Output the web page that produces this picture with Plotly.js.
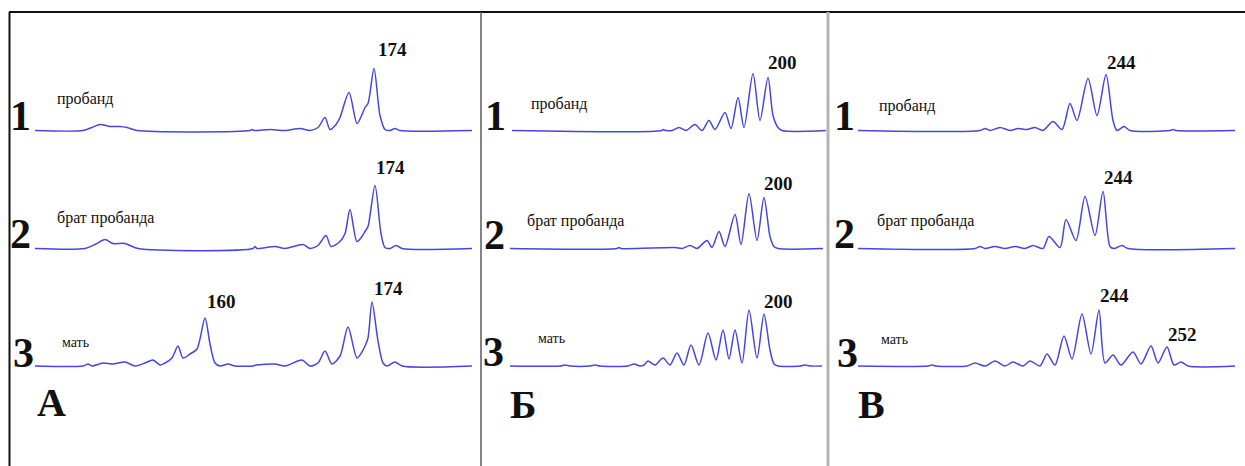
<!DOCTYPE html>
<html>
<head>
<meta charset="utf-8">
<script src="https://cdn.plot.ly/plotly-3.0.1.min.js"></script>
<style>html,body{margin:0;padding:0;background:#fff;}#chart{width:1245px;height:466px;}</style>
</head>
<body>
<div id="chart"></div>
<script>
// ---------- DATA (migration position, signal height) ----------
const panelLetters = ['А', 'Б', 'В'];
const rowNumbers = ['1', '2', '3'];
const sampleNames = ['пробанд', 'брат пробанда', 'мать'];

// Panel А
const A1x = [35, 83, 92, 100, 110, 120, 127, 137, 250, 252, 254, 270, 285, 300, 310, 318, 325, 330, 336, 340, 349, 357, 362, 365, 368, 374, 380, 385, 390, 395, 400, 472];
const A1y = [0, 0, 3, 6, 4, 4, 3, 0, 0, 1, 0, 1, 0, 2, 0, 3, 13, 1, 6, 13, 38, 7, 16, 23, 27, 62, 15, 1, 0, 2, 0, 0];
const A2x = [35, 85, 95, 105, 113, 125, 138, 253, 255, 257, 275, 285, 303, 310, 318, 326, 331, 340, 345, 350, 357, 362, 365, 368, 375, 381, 385, 390, 396, 402, 472];
const A2y = [0, 0, 4, 9, 5, 5, 0, 0, 2, 0, 2, 0, 4, 0, 3, 13, 2, 7, 15, 39, 7, 12, 17, 22, 63, 15, 1, 0, 3, 0, 0];
const A3x = [35, 83, 88, 92, 103, 113, 125, 135, 145, 153, 160, 165, 172, 178, 183, 190, 197, 205, 210, 215, 220, 228, 235, 253, 256, 275, 285, 302, 310, 318, 325, 332, 340, 348, 357, 362, 365, 368, 372, 378, 383, 387, 395, 402, 472];
const A3y = [0, 0, 2, 0, 3, 2, 4, 0, 3, 6, 1, 3, 8, 20, 8, 12, 17, 48, 22, 3, 0, 2, 0, 0, 1, 2, 0, 6, 0, 3, 15, 2, 10, 39, 8, 14, 20, 28, 64, 25, 3, 0, 4, 0, 0];

// Panel Б
const B1x = [512, 662, 663, 666, 672, 679, 686, 695, 702, 709, 715, 725, 731, 738, 744, 753, 760, 768, 773, 778, 782, 826];
const B1y = [0, 0, 1, 0, 0, 3, 0, 6, 0, 10, 1, 18, 2, 33, 3, 57, 10, 53, 15, 3, 0, 0];
const B2x = [510, 617, 619, 621, 675, 682, 690, 697, 707, 712, 719, 725, 735, 741, 749, 757, 764, 770, 774, 778, 823];
const B2y = [0, 0, 1, 0, 1, 0, 3, 0, 8, 1, 17, 2, 34, 4, 55, 8, 51, 12, 2, 0, 0];
const B3x = [510, 560, 565, 570, 590, 595, 600, 628, 634, 640, 644, 648, 655, 663, 670, 677, 684, 691, 699, 708, 716, 723, 729, 735, 742, 749, 757, 764, 770, 774, 778, 800, 805, 810, 822];
const B3y = [0, 0, 1, 0, 0, 1, 0, 0, 2, 0, 1, 5, 1, 8, 1, 13, 1, 21, 1, 33, 6, 36, 7, 36, 3, 56, 8, 52, 16, 2, 0, 0, 1, 0, 0];

// Panel В
const C1x = [858, 980, 985, 990, 1000, 1010, 1018, 1027, 1035, 1043, 1053, 1062, 1070, 1077, 1088, 1097, 1106, 1113, 1117, 1124, 1130, 1170, 1173, 1176, 1235];
const C1y = [0, 0, 2, 0, 3, 0, 2, 1, 3, 0, 9, 1, 27, 10, 52, 15, 56, 10, 0, 4, 0, 0, 1, 0, 0];
const C2x = [858, 975, 980, 985, 995, 1005, 1015, 1025, 1033, 1043, 1049, 1060, 1066, 1076, 1085, 1095, 1103, 1110, 1114, 1122, 1128, 1235];
const C2y = [0, 0, 2, 0, 2, 0, 2, 0, 3, 0, 12, 1, 29, 8, 52, 13, 57, 2, 0, 3, 0, 0];
const C3x = [858, 928, 932, 936, 967, 975, 985, 995, 1005, 1013, 1023, 1030, 1040, 1047, 1055, 1064, 1072, 1082, 1091, 1099, 1105, 1113, 1121, 1133, 1141, 1151, 1158, 1167, 1174, 1181, 1188, 1235];
const C3y = [0, 0, 1, 0, 0, 3, 0, 5, 0, 4, 0, 5, 0, 12, 1, 30, 7, 52, 12, 56, 3, 11, 1, 14, 2, 20, 3, 19, 1, 4, 0, 0];

// Peak size labels (allele sizes)
const peakLabelsA = [['174'], ['174'], ['160', '174']];
const peakLabelsB = [['200'], ['200'], ['200']];
const peakLabelsC = [['244'], ['244'], ['244', '252']];

// ---------- LAYOUT HELPERS ----------
const W = 1245, H = 466;
const X = px => px / W;
const Y = py => 1 - py / H;
const SERIF = 'Liberation Serif, Times New Roman, serif';
const LINE = '#4646e2';

const panels = [
  {xs: [A1x, A2x, A3x], ys: [A1y, A2y, A3y], range: [35, 472], labels: peakLabelsA},
  {xs: [B1x, B2x, B3x], ys: [B1y, B2y, B3y], range: [510, 826], labels: peakLabelsB},
  {xs: [C1x, C2x, C3x], ys: [C1y, C2y, C3y], range: [858, 1235], labels: peakLabelsC}
];
const baselines = [130.5, 248.5, 366];

const traces = [];
panels.forEach((p, pi) => {
  for (let r = 0; r < 3; r++) {
    traces.push({
      x: p.xs[r], y: p.ys[r], type: 'scatter', mode: 'lines',
      xaxis: pi === 0 ? 'x' : 'x' + (pi + 1),
      yaxis: r === 0 ? 'y' : 'y' + (r + 1),
      line: {color: LINE, width: 1.5, shape: 'spline', smoothing: 0.8},
      hoverinfo: 'skip', showlegend: false
    });
  }
});

const layout = {
  width: W, height: H,
  margin: {l: 0, r: 0, t: 0, b: 0, pad: 0},
  paper_bgcolor: '#ffffff', plot_bgcolor: 'rgba(0,0,0,0)',
  showlegend: false,
  annotations: [], shapes: []
};
const hiddenAx = {showgrid: false, zeroline: false, showticklabels: false, ticks: '', showline: false, fixedrange: true};
panels.forEach((p, pi) => {
  const key = pi === 0 ? 'xaxis' : 'xaxis' + (pi + 1);
  layout[key] = Object.assign({}, hiddenAx, {range: p.range, domain: [X(p.range[0]), X(p.range[1])], anchor: 'y'});
});
baselines.forEach((b, r) => {
  const key = r === 0 ? 'yaxis' : 'yaxis' + (r + 1);
  layout[key] = Object.assign({}, hiddenAx, {range: [-5, 95], domain: [Y(b + 5), Y(b - 95)], anchor: 'x'});
});

// frame lines
layout.shapes.push({type: 'line', xref: 'paper', yref: 'paper', x0: X(9), x1: 1, y0: Y(12), y1: Y(12), line: {color: '#111', width: 2}});
layout.shapes.push({type: 'line', xref: 'paper', yref: 'paper', x0: X(9.5), x1: X(9.5), y0: Y(12), y1: 0, line: {color: '#111', width: 2}});
layout.shapes.push({type: 'line', xref: 'paper', yref: 'paper', x0: X(481), x1: X(481), y0: Y(12), y1: 0, line: {color: '#5a5a5a', width: 1.5}});
layout.shapes.push({type: 'line', xref: 'paper', yref: 'paper', x0: X(828), x1: X(828), y0: Y(12), y1: 0, line: {color: '#b4b4b4', width: 3}});

function ann(text, px, py, size, bold, xanchor) {
  layout.annotations.push({
    text: bold ? '<b>' + text + '</b>' : text,
    xref: 'paper', yref: 'paper', x: X(px), y: Y(py),
    xanchor: xanchor || 'center', yanchor: 'middle', showarrow: false,
    font: {family: SERIF, size: size, color: '#111'}
  });
}

// row digits (right edge, vertical centre)
const digitPos = [
  [[33, 116], [33, 234], [36, 353]],
  [[508, 116], [507, 235], [506, 352]],
  [[857, 116], [857, 234], [860, 353]]
];
// sample names (left edge, vertical centre)
const namePos = [
  [[55, 99], [55, 218], [60, 342]],
  [[529, 104], [525, 221], [536, 338]],
  [[877, 106], [875, 221], [879, 339]]
];
// peak labels (centre)
const peakPos = [
  [[[392, 50]], [[390, 167]], [[221, 301], [388, 288]]],
  [[[782, 63]], [[778, 183]], [[778, 301]]],
  [[[1121, 62]], [[1118, 177]], [[1114, 295], [1182, 334]]]
];
const letterPos = [[51, 402], [523, 404], [871, 404]];

panels.forEach((p, pi) => {
  for (let r = 0; r < 3; r++) {
    ann(rowNumbers[r], digitPos[pi][r][0], digitPos[pi][r][1], 42, true, 'right');
    ann(sampleNames[r], namePos[pi][r][0], namePos[pi][r][1], r === 2 ? 14 : 16, false, 'left');
    p.labels[r].forEach((t, k) => ann(t, peakPos[pi][r][k][0], peakPos[pi][r][k][1], 19, true, 'center'));
  }
  ann(panelLetters[pi], letterPos[pi][0], letterPos[pi][1], 40, true, 'center');
});

Plotly.newPlot('chart', traces, layout, {staticPlot: true, displayModeBar: false});
</script>
</body>
</html>
